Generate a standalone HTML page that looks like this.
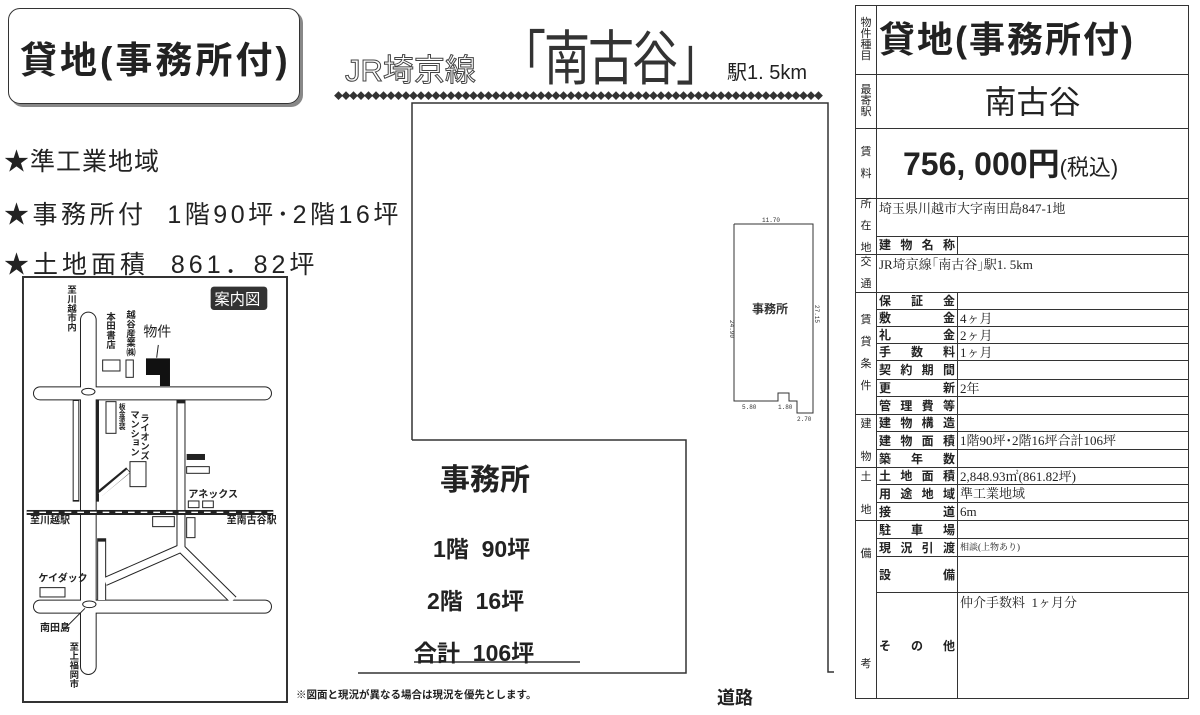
<!DOCTYPE html>
<html><head><meta charset="utf-8"><style>
body{margin:0;width:1200px;height:715px;background:#fff;position:relative;overflow:hidden;font-family:"Liberation Sans","Noto Sans CJK JP",sans-serif;color:#222}
.a{position:absolute;white-space:nowrap}
table{position:absolute;left:855px;top:5px;border-collapse:collapse;width:334px}
td{border:1.5px solid #333;padding:0;font-size:12px;line-height:1;vertical-align:middle}
td.c1{width:20px;text-align:center;font-size:11px}
td.lb{width:76px;font-size:12px;font-weight:bold;text-align:justify;text-align-last:justify;padding:0 2px}
td.v{font-family:"Liberation Serif","Noto Serif CJK SC",serif;font-size:13px;padding-left:2px}
</style></head><body>

<div class="a" style="left:8px;top:8px;width:290px;height:94px;border:1.5px solid #333;border-radius:12px;box-shadow:3px 3px 0 #888"></div>
<div class="a" style="left:20px;top:30px;font-size:37px;font-weight:bold;letter-spacing:3px">貸地(事務所付)</div>

<div class="a" style="left:345px;top:45px;font-size:31px;color:#fff;-webkit-text-stroke:1px #444">JR埼京線</div>
<div class="a" style="left:500px;top:12px;font-size:46px;color:#333;letter-spacing:-2px;transform:scale(1,1.3);transform-origin:top left">「南古谷」</div>
<div class="a" style="left:727px;top:56px;font-size:20px">駅1. 5km</div>
<div class="a" style="left:334px;top:89px;font-size:9px;letter-spacing:-1.5px;color:#333">◆◆◆◆◆◆◆◆◆◆◆◆◆◆◆◆◆◆◆◆◆◆◆◆◆◆◆◆◆◆◆◆◆◆◆◆◆◆◆◆◆◆◆◆◆◆◆◆◆◆◆◆◆◆◆◆◆◆◆◆◆◆◆◆◆</div>

<div class="a" style="left:4px;top:142px;font-size:25px;letter-spacing:1px">★準工業地域</div>
<div class="a" style="left:4px;top:195px;font-size:25px;letter-spacing:3.5px">★事務所付&nbsp; 1階90坪･2階16坪</div>
<div class="a" style="left:4px;top:245px;font-size:25px;letter-spacing:4px">★土地面積&nbsp; 861．82坪</div>

<svg class="a" style="left:0;top:0" width="1200" height="715">
<g fill="none" stroke="#333" stroke-width="1.5">
<polyline points="412,440 412,103 828,103 828,672 834,672"/>
<polyline points="358,673 686,673 686,440 412,440"/>
<line x1="414" y1="662" x2="580" y2="662"/>
<polyline points="734,224 813,224 813,413 797,413 797,401 789,401 789,393 778,393 778,401 734,401 734,224" stroke-width="1"/>
</g>
<g font-size="6" fill="#333" font-family="Liberation Mono,monospace">
<text x="762" y="222">11.70</text><text x="742" y="409">5.80</text><text x="778" y="409">1.80</text><text x="797" y="421">2.70</text>
<text x="730" y="320" transform="rotate(90 730 320)">24.90</text>
<text x="815" y="305" transform="rotate(90 815 305)">27.15</text>
</g>
<text x="752" y="313" font-size="12" font-weight="bold" fill="#333">事務所</text>

<rect x="23" y="277" width="264" height="425" fill="#fff" stroke="#333" stroke-width="2"/>
<g transform="translate(20,275) scale(0.3333)">
<g stroke="#222" stroke-width="50" stroke-linecap="round" fill="none">
<line x1="205" y1="135" x2="205" y2="1175"/>
<line x1="60" y1="355" x2="735" y2="355" stroke-width="42"/>
<line x1="60" y1="995" x2="735" y2="995" stroke-width="42"/>
</g>
<g stroke="#222" stroke-width="27" fill="none">
<line x1="483" y1="375" x2="483" y2="830"/>
<polyline points="483,820 640,975"/>
<polyline points="483,820 255,920"/>
<line x1="245" y1="790" x2="245" y2="975"/>
<line x1="168" y1="375" x2="168" y2="680" stroke-width="20"/>
<line x1="232" y1="375" x2="232" y2="680" stroke-width="10"/>
<line x1="240" y1="655" x2="325" y2="585" stroke-width="20"/>
</g>
<g stroke="#fff" stroke-width="44" stroke-linecap="round" fill="none">
<line x1="205" y1="135" x2="205" y2="1175"/>
<line x1="60" y1="355" x2="735" y2="355" stroke-width="36"/>
<line x1="60" y1="995" x2="735" y2="995" stroke-width="36"/>
</g>
<g stroke="#fff" stroke-width="21" fill="none">
<line x1="483" y1="385" x2="483" y2="830"/>
<polyline points="483,820 640,975"/>
<polyline points="483,820 255,920"/>
<line x1="245" y1="800" x2="245" y2="975"/>
<line x1="168" y1="378" x2="168" y2="675" stroke-width="14"/>
<line x1="240" y1="660" x2="325" y2="588" stroke-width="13"/>
</g>
<rect x="20" y="705" width="740" height="15" fill="#222"/>
<line x1="20" y1="712" x2="760" y2="712" stroke="#fff" stroke-width="4" stroke-dasharray="20 18"/>
<ellipse cx="205" cy="350" rx="20" ry="10" fill="none" stroke="#222" stroke-width="3"/>
<ellipse cx="208" cy="988" rx="20" ry="10" fill="none" stroke="#222" stroke-width="3"/>
<polygon points="378,250 450,250 450,333 420,333 420,300 378,300" fill="#111"/>
<g fill="none" stroke="#222" stroke-width="3">
<rect x="248" y="255" width="52" height="33"/><rect x="318" y="255" width="22" height="52"/>
<rect x="258" y="380" width="30" height="95"/><rect x="330" y="560" width="48" height="75"/>
<rect x="500" y="575" width="68" height="20"/><rect x="505" y="678" width="32" height="20"/><rect x="548" y="678" width="32" height="20"/>
<rect x="398" y="725" width="65" height="30"/><rect x="500" y="728" width="25" height="60"/>
<rect x="60" y="938" width="75" height="28"/>
<line x1="130" y1="1065" x2="195" y2="1000"/><line x1="415" y1="210" x2="410" y2="248"/>
</g>
<rect x="500" y="537" width="55" height="18" fill="#222"/>
<rect x="572" y="35" width="170" height="70" rx="10" fill="#333"/>
<text x="583" y="88" font-size="46" fill="#fff">案内図</text>
<g font-size="30" font-weight="bold" fill="#222">
<text x="370" y="185" font-size="42" font-weight="normal">物件</text>
<text x="505" y="668">アネックス</text>
<text x="30" y="745">至川越駅</text><text x="620" y="745">至南古谷駅</text>
<text x="55" y="920">ケイダック</text><text x="60" y="1068">南田島</text>
</g>
<g font-size="28" font-weight="bold" fill="#222" writing-mode="tb">
<text x="153" y="30">至川越市内</text><text x="270" y="110">本田書店</text><text x="330" y="105">越谷産業㈱</text>
<text x="302" y="385" font-size="20">板金塗装</text><text x="372" y="415">ライオンズ</text><text x="342" y="405">マンション</text>
<text x="160" y="1100">至上福岡市</text>
</g>
</g>
</svg>

<div class="a" style="left:440px;top:455px;font-size:30px;font-weight:bold">事務所</div>
<div class="a" style="left:433px;top:530px;font-size:23px;font-weight:bold">1階&nbsp; 90坪</div>
<div class="a" style="left:427px;top:582px;font-size:23px;font-weight:bold">2階&nbsp; 16坪</div>
<div class="a" style="left:414px;top:634px;font-size:23px;font-weight:bold">合計&nbsp; 106坪</div>
<div class="a" style="left:296px;top:687px;font-size:10.5px;font-weight:bold">※図面と現況が異なる場合は現況を優先とします。</div>
<div class="a" style="left:717px;top:684px;font-size:18px;font-weight:bold">道路</div>

<table>
<tr style="height:69px"><td class="c1">物<br>件<br>種<br>目</td><td colspan="2" style="font-size:36px;font-weight:bold;padding-left:2px;letter-spacing:2px">貸地(事務所付)</td></tr>
<tr style="height:54px"><td class="c1">最<br>寄<br>駅</td><td colspan="2" style="font-size:32px;text-align:center">南古谷</td></tr>
<tr style="height:70px"><td class="c1">賃<br><br>料</td><td colspan="2" style="font-size:32px;font-weight:bold;padding-left:26px">756, 000円<span style="font-size:22px;font-weight:normal">(税込)</span></td></tr>
<tr style="height:35px"><td class="c1" rowspan="2">所<br><br>在<br><br>地</td><td colspan="2" class="v" style="vertical-align:top;padding-top:3px">埼玉県川越市大字南田島847-1地</td></tr>
<tr style="height:17px"><td class="lb">建物名称</td><td></td></tr>
<tr style="height:38px"><td class="c1">交<br><br>通</td><td colspan="2" class="v" style="vertical-align:top;padding-top:3px">JR埼京線｢南古谷｣駅1. 5km</td></tr>
<tr style="height:17px"><td class="c1" rowspan="7">賃<br><br>貸<br><br>条<br><br>件</td><td class="lb">保証金</td><td class="v"></td></tr>
<tr style="height:17px"><td class="lb">敷　　金</td><td class="v">4ヶ月</td></tr>
<tr style="height:17px"><td class="lb">礼　　金</td><td class="v">2ヶ月</td></tr>
<tr style="height:17px"><td class="lb">手数料</td><td class="v">1ヶ月</td></tr>
<tr style="height:19px"><td class="lb">契約期間</td><td></td></tr>
<tr style="height:17px"><td class="lb">更　　新</td><td class="v">2年</td></tr>
<tr style="height:18px"><td class="lb">管理費等</td><td></td></tr>
<tr style="height:17px"><td class="c1" rowspan="3">建<br><br><br>物</td><td class="lb">建物構造</td><td></td></tr>
<tr style="height:18px"><td class="lb">建物面積</td><td class="v">1階90坪･2階16坪合計106坪</td></tr>
<tr style="height:18px"><td class="lb">築年数</td><td></td></tr>
<tr style="height:17px"><td class="c1" rowspan="3">土<br><br><br>地</td><td class="lb">土地面積</td><td class="v">2,848.93㎡(861.82坪)</td></tr>
<tr style="height:18px"><td class="lb">用途地域</td><td class="v">準工業地域</td></tr>
<tr style="height:18px"><td class="lb">接　　道</td><td class="v">6m</td></tr>
<tr style="height:18px"><td class="c1" rowspan="4">備<br><br><br><br><br><br><br><br><br><br>考</td><td class="lb">駐車場</td><td></td></tr>
<tr style="height:18px"><td class="lb">現況引渡</td><td class="v" style="font-size:9px">相談(上物あり)</td></tr>
<tr style="height:36px"><td class="lb">設　　備</td><td></td></tr>
<tr style="height:106px"><td class="lb">そ　の　他</td><td class="v" style="vertical-align:top;padding-top:3px">仲介手数料&nbsp; 1ヶ月分</td></tr>
</table>
</body></html>
